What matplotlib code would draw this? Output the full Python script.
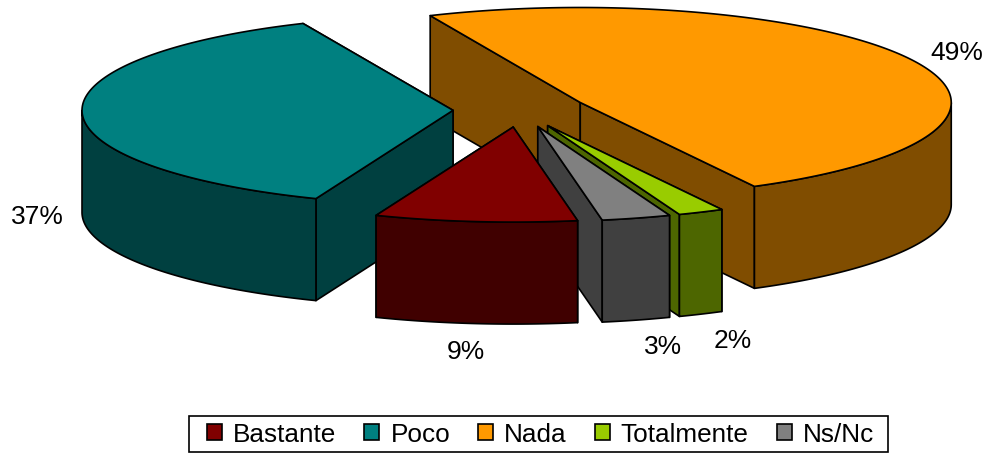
import numpy as np
import matplotlib
matplotlib.use('Agg')
import matplotlib.pyplot as plt
from matplotlib.patches import Polygon, Patch, Rectangle
from matplotlib.colors import to_rgb

plt.rcParams['font.family'] = ['Liberation Sans', 'DejaVu Sans']

categories = ['Bastante', 'Poco', 'Nada', 'Totalmente', 'Ns/Nc']
values = [8.8, 37.35, 48.85, 2, 3]

colors = ['#800000', '#008080', '#FF9900', '#99CC00', '#808080']

# pie geometry, in pixels of the picture
cx, cy = 520, 111
rx, ry = 371, 95
explode = 67
depth = 102
first_angle = 170    # clockwise from 12 o'clock
draw_order = [2, 1, 3, 4, 0]    # back slices first

label_x = [466, 37, 957, 733, 663]
label_y = [352, 217, 53, 341, 347]

fig = plt.figure(figsize=(9.88, 4.56), dpi=100)
ax = fig.add_axes([0, 0, 1, 1])
ax.set_xlim(0, 988)
ax.set_ylim(456, 0)
ax.axis('off')


def poly(points, color, z):
    ax.add_patch(Polygon(points, closed=True, facecolor=color, edgecolor='black',
                         linewidth=1.2, joinstyle='round', zorder=z))


total = sum(values)
starts = first_angle + 360 * np.concatenate([[0], np.cumsum(values)[:-1]]) / total
sweeps = 360 * np.array(values) / total

for i in draw_order:
    z = draw_order.index(i) * 10
    mid = np.radians(starts[i] + sweeps[i] / 2)
    ax0 = cx + explode * np.sin(mid)
    ay0 = cy - explode * ry / rx * np.cos(mid)

    t = np.radians(np.linspace(starts[i], starts[i] + sweeps[i], 200))
    xs = ax0 + rx * np.sin(t)
    ys = ay0 - ry * np.cos(t)
    top = np.column_stack([xs, ys])
    apex = np.array([ax0, ay0])
    drop = np.array([0, depth])
    dark = tuple(c * 0.5 for c in to_rgb(colors[i]))

    # the two cut faces, the one further back first
    faces = [top[0], top[-1]]
    faces.sort(key=lambda p: p[1] + apex[1])
    for p in faces:
        poly([apex, p, p + drop, apex + drop], dark, z + 1)

    # outer wall, only the front part of the rim shows
    front = np.cos(t) < 0
    if front.any():
        rim = top[front]
        poly(np.vstack([rim, (rim + drop)[::-1]]), dark, z + 2)

    poly(np.vstack([apex, top]), colors[i], z + 3)

    ax.text(label_x[i], label_y[i], f"{round(values[i])}%", fontsize=19, ha='center',
            va='center', color='black', zorder=100)

# legend frame is wider than the legend's own padding would give
ax.add_patch(Rectangle((189, 417), 699, 36, facecolor='white', edgecolor='black',
                       linewidth=1.2, zorder=190))
handles = [Patch(facecolor=c, edgecolor='black', linewidth=1.2) for c in colors]
leg = ax.legend(handles, categories, ncol=5, loc='center', bbox_to_anchor=(540.5 / 988, 1 - 435 / 456),
                fontsize=18.8, frameon=False,
                handlelength=0.58, handleheight=0.58, handletextpad=0.42, columnspacing=1.07,
                borderpad=0, borderaxespad=0, labelspacing=0)
leg.set_zorder(200)

fig.savefig('out.png', dpi=100)
